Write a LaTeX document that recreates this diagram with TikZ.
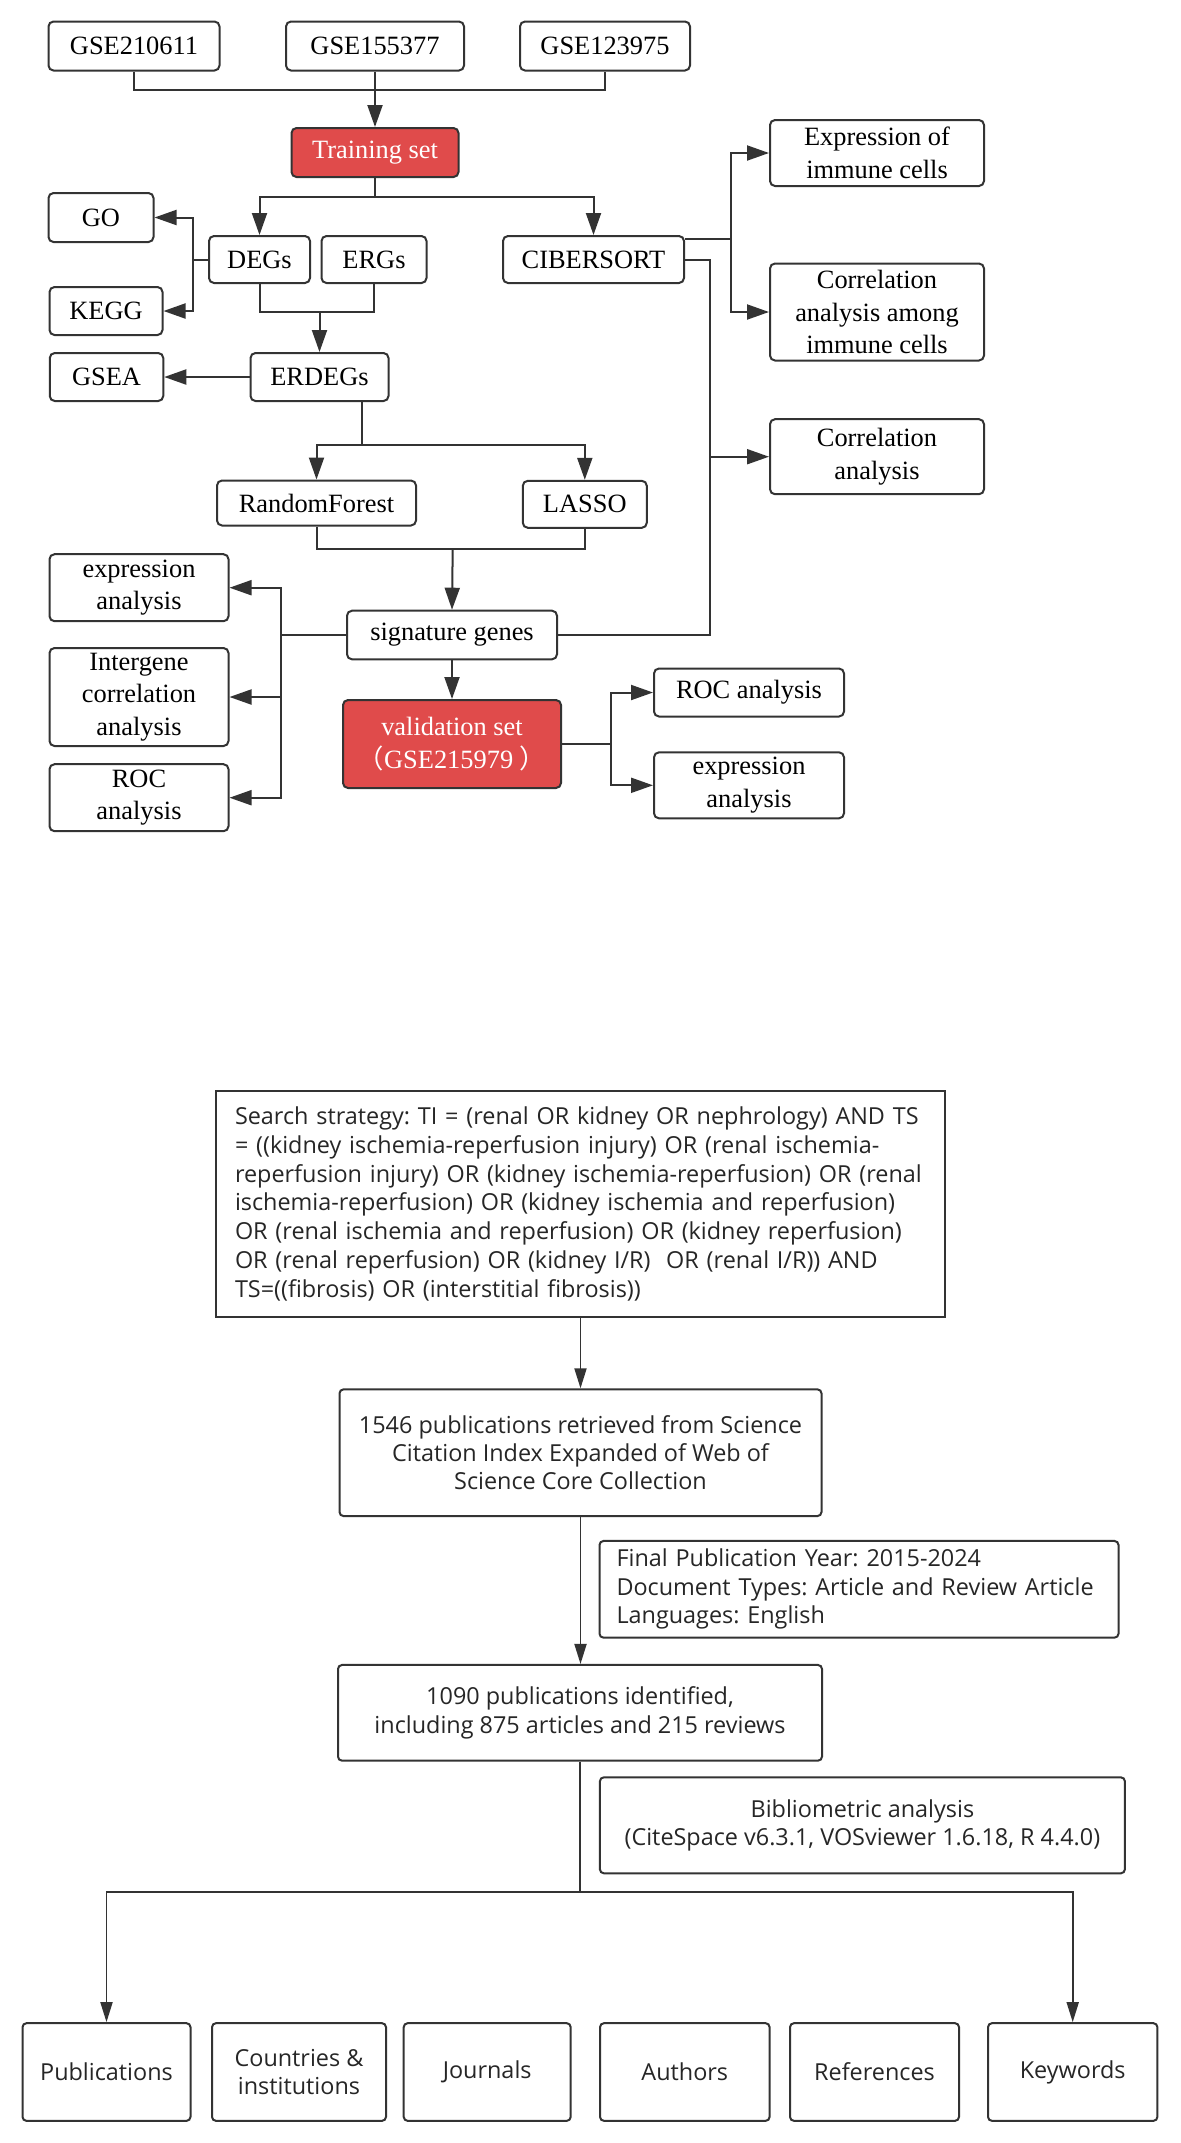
\documentclass[tikz,border=0pt]{standalone}
\usepackage{fontspec}
\setmainfont{Liberation Serif}
\newfontfamily\sansb{Open Sans}
\newfontfamily\cjkf{Noto Sans CJK SC}
\usetikzlibrary{arrows.meta}
\definecolor{lc}{HTML}{333333}
\definecolor{redf}{HTML}{E04B4B}
\begin{document}
\frenchspacing
\begin{tikzpicture}[x=0.5pt,y=-0.5pt,
 bx/.style 2 args={minimum width=#1*0.5pt, minimum height=#2*0.5pt},
 tbox/.style={draw=lc, line width=1pt, rounded corners=2.5pt, fill=white, inner sep=0pt, align=center, font=\fontsize{13.2}{16.3}\selectfont, text=black},
 rbox/.style={tbox, fill=redf, text=white},
 ln/.style={draw=lc, line width=1pt},
 arr/.style={ln, -{Triangle[length=11pt,width=7.5pt]}},
 sbox/.style={draw=lc, line width=1pt, rounded corners=2pt, fill=white, inner sep=0pt, align=center, font=\sansb\fontsize{11.7}{14.2}\selectfont, text=black!85},
 sln/.style={draw=lc, line width=0.9pt},
 sarr/.style={sln, -{Triangle[length=10pt,width=6pt]}},
]
\useasboundingbox (0,0) rectangle (1181,2143);
\fill[white] (0,0) rectangle (1181,2143);

% ---------- top part ----------
\node[tbox, bx={171}{49}] (g1) at (134,46) {GSE210611};
\node[tbox, bx={178}{49}] (g2) at (375,46) {GSE155377};
\node[tbox, bx={170}{49}] (g3) at (605,46) {GSE123975};
\node[rbox, bx={167}{49}] (train) at (375,152.5) {Training set};
\node[tbox, bx={101}{47}] (degs) at (259.5,259.5) {DEGs};
\node[tbox, bx={105}{47}] (ergs) at (374,259.5) {ERGs};
\node[tbox, bx={181}{47}] (cib) at (593.5,259.5) {CIBERSORT};
\node[tbox, bx={105}{49}] (go) at (101,217.5) {GO};
\node[tbox, bx={113}{48}] (kegg) at (106,311) {KEGG};
\node[tbox, bx={138}{48}] (erdegs) at (319.5,377) {ERDEGs};
\node[tbox, bx={113.5}{48}] (gsea) at (106.5,377) {GSEA};
\node[tbox, bx={199}{45}] (rf) at (316.5,503) {RandomForest};
\node[tbox, bx={124}{47}] (lasso) at (584.8,504.3) {LASSO};
\node[tbox, bx={210}{48.6}] (sig) at (452,635) {signature genes};
\node[tbox, bx={179}{67}] (exp1) at (139,587.7) {expression\\analysis};
\node[tbox, bx={179}{98}] (inter) at (139,697) {Intergene\\correlation\\analysis};
\node[tbox, bx={179}{67}] (roc1) at (139,797.7) {ROC\\analysis};
\node[rbox, bx={218}{88}] (val) at (452,744) {validation set\\{\cjkf （}GSE215979 {\cjkf ）}};
\node[tbox, bx={190}{48}] (roc2) at (749,692.5) {ROC analysis};
\node[tbox, bx={190}{66}] (exp2) at (749,785.3) {expression\\analysis};
\node[tbox, bx={214}{66}] (eic) at (877,153) {Expression of\\immune cells};
\node[tbox, bx={214}{97}] (caic) at (877,312) {Correlation\\analysis among\\immune cells};
\node[tbox, bx={214}{75}] (ca) at (877,456.7) {Correlation\\analysis};

\coordinate (j1) at (375,90);
\coordinate (j2) at (375,197);
\coordinate (j3) at (193,259.5);
\coordinate (j4) at (319.5,312);
\coordinate (j5) at (361.6,445);
\coordinate (j6) at (452.7,549);
\coordinate (j7) at (281.3,635);
\coordinate (j8) at (611,744);
\coordinate (j9) at (710,635);
\coordinate (j10) at (730.6,239.3);

\draw[ln] (g1.south) |- (j1) -| (g3.south);
\draw[arr] (g2.south) -- (train.north);
\draw[ln] (train.south) -- (j2);
\draw[arr] (j2) -| (degs.north);
\draw[arr] (j2) -| (cib.north);
\draw[ln] (degs.west) -- (j3);
\draw[arr] (j3) |- (go.east);
\draw[arr] (j3) |- (kegg.east);
\draw[ln] (degs.south) |- (j4) -| (ergs.south);
\draw[arr] (j4) -- (erdegs.north);
\draw[arr] (erdegs.west) -- (gsea.east);
\draw[ln] (erdegs.south -| j5) -- (j5);
\draw[arr] (j5) -| (rf.north);
\draw[arr] (j5) -| (lasso.north);
\draw[ln] (rf.south) |- (j6) -| (lasso.south);
\draw[arr] (j6) -- (sig.north);
\draw[ln] (sig.west) -- (j7);
\draw[arr] (j7) |- (exp1.east);
\draw[arr] (j7) |- (inter.east);
\draw[arr] (j7) |- (roc1.east);
\draw[arr] (sig.south) -- (val.north);
\draw[ln] (val.east) -- (j8);
\draw[arr] (j8) |- (roc2.west);
\draw[arr] (j8) |- (exp2.west);
\draw[ln] (sig.east) -- (j9) |- (cib.east);
\draw[arr] (ca.west -| j9) -- (ca.west);
\draw[ln] (cib.east |- j10) -- (j10);
\draw[arr] (j10) |- (eic.west);
\draw[arr] (j10) |- (caic.west);

% ---------- bottom part ----------
\node[sbox, rounded corners=0pt, align=left, text width=345.5pt, inner xsep=9.5pt, minimum height=225.7*0.5pt, font=\sansb\fontsize{11.7}{14.4}\selectfont] (search) at (580.5,1203.8)
{Search strategy: TI = (renal OR kidney OR nephrology) AND TS\\
= ((kidney ischemia-reperfusion injury) OR (renal ischemia-\\
reperfusion injury) OR (kidney ischemia-reperfusion) OR (renal\\
ischemia-reperfusion) OR (kidney ischemia and reperfusion)\\
OR (renal ischemia and reperfusion) OR (kidney reperfusion)\\
OR (renal reperfusion) OR (kidney I/R)\ \ OR (renal I/R)) AND\\
TS=((fibrosis) OR (interstitial fibrosis))};
\node[sbox, bx={482}{126.7}] (p1546) at (580.5,1452.7) {1546 publications retrieved from Science\\Citation Index Expanded of Web of\\Science Core Collection};
\node[sbox, align=left, text width=242.5pt, inner xsep=8.5pt, minimum height=96.7*0.5pt] (final) at (859,1589.3) {Final Publication Year: 2015-2024\\Document Types: Article and Review Article\\Languages: English};
\node[sbox, bx={484}{95.7}] (p1090) at (580,1712.8) {1090 publications identified,\\including 875 articles and 215 reviews};
\node[sbox, bx={525}{96}] (biblio) at (862.4,1825.3) {Bibliometric analysis\\(CiteSpace v6.3.1, VOSviewer 1.6.18, R 4.4.0)};
\node[sbox, bx={168}{97.7}] (pub) at (106.5,2072) {Publications};
\node[sbox, bx={174}{97.7}] (cou) at (299,2072) {Countries \&\\institutions};
\node[sbox, bx={167}{97.7}] (jou) at (487.2,2072) {Journals};
\node[sbox, bx={169.6}{97.7}] (aut) at (684.8,2072) {Authors};
\node[sbox, bx={169}{97.7}] (refs) at (874.5,2072) {References};
\node[sbox, bx={169.4}{97.7}] (key) at (1072.7,2072) {Keywords};

\coordinate (k1) at (580,1891.7);
\draw[sarr] (search.south -| p1546.north) -- (p1546.north);
\draw[sarr] (p1546.south) -- (p1090.north -| p1546.south);
\draw[sln] (p1090.south) -- (k1);
\draw[sarr] (k1) -| (pub.north);
\draw[sarr] (k1) -| (key.north);
\end{tikzpicture}
\end{document}
